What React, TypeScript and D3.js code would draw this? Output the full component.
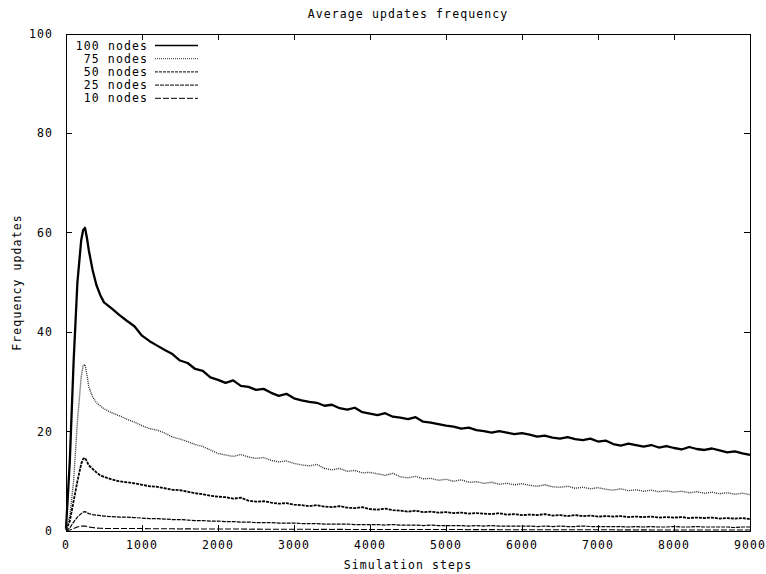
import React from "react";
import * as d3 from "d3";

const title = "Average updates frequency";
const xLabel = "Simulation steps";
const yLabel = "Frequency updates";
const xTicks = [0, 1000, 2000, 3000, 4000, 5000, 6000, 7000, 8000, 9000];
const yTicks = [0, 20, 40, 60, 80, 100];
const seriesNames = ["100 nodes", "75 nodes", "50 nodes", "25 nodes", "10 nodes"];

const earlySteps = [0, 50, 100, 150, 200, 225, 250, 275, 300, 350, 400, 450, 500];
const lateSteps = d3.range(600, 9001, 100);
const steps = [...earlySteps, ...lateSteps];

const nodes100 = [
  0.5, 14, 34, 50, 58.5, 60.5, 61, 59, 56.5, 52.5, 49.5, 47.5, 46,
  44.8, 43.5, 42.3, 41.2, 39.3,
  38.2, 37.3, 36.4, 35.6, 34.3, 33.8, 32.6, 32.2, 30.9, 30.4,
  29.8, 30.3, 29.2, 29.0, 28.4, 28.6, 27.8, 27.2, 27.6, 26.7,
  26.3, 26.0, 25.8, 25.2, 25.4, 24.7, 24.4, 24.8, 23.9, 23.6,
  23.3, 23.7, 23.0, 22.8, 22.5, 22.9, 22.0, 21.8, 21.5, 21.2,
  21.0, 20.6, 20.8, 20.3, 20.1, 19.8, 20.1, 19.8, 19.5, 19.7,
  19.4, 19.0, 19.2, 18.8, 18.6, 18.9, 18.5, 18.3, 18.6, 18.0,
  18.2, 17.5, 17.2, 17.6, 17.3, 17.0, 17.3, 16.8, 17.1, 16.7,
  16.4, 16.9, 16.5, 16.3, 16.6, 16.2, 15.8, 16.0, 15.6, 15.3,
];

const nodes75 = [
  0.3, 3, 10, 22, 31, 33.3, 33.5, 31.5, 29, 27, 25.8, 25.2, 24.6,
  23.8, 23.2, 22.5, 21.9, 21.2,
  20.6, 20.3, 19.7, 18.9, 18.5, 18.0, 17.4, 17.0, 16.3, 15.6,
  15.3, 15.0, 15.4, 14.9, 14.6, 14.8, 14.2, 13.9, 14.1, 13.6,
  13.3, 13.1, 13.4, 12.6, 12.3, 12.6, 12.0, 12.2, 11.7, 11.8,
  11.5, 11.2, 11.6, 10.9, 10.7, 11.0, 10.5, 10.6, 10.2, 10.4,
  10.0, 10.3, 9.8, 9.9, 9.6, 9.8, 9.4, 9.6, 9.3, 9.5,
  9.2, 9.0, 9.3, 8.9, 8.8, 9.0, 8.6, 8.8, 8.5, 8.7,
  8.4, 8.2, 8.5, 8.1, 8.3, 8.0, 8.2, 7.9, 8.1, 7.8,
  8.0, 7.7, 7.9, 7.6, 7.8, 7.5, 7.7, 7.4, 7.6, 7.3,
];

const nodes50 = [
  0.2, 2, 6, 10, 13.5, 14.5, 14.7, 14, 13.2, 12.5, 11.8, 11.2, 10.9,
  10.4, 10.0, 9.8, 9.6, 9.3,
  9.0, 8.9, 8.6, 8.3, 8.2, 7.9, 7.6, 7.4, 7.1, 6.9,
  6.8, 6.5, 6.7, 6.1, 5.9, 6.0, 5.7, 5.5, 5.6, 5.3,
  5.2, 5.0, 5.2, 4.9, 4.8, 5.0, 4.7, 4.6, 4.8, 4.4,
  4.3, 4.5, 4.2, 4.1, 3.9, 4.1, 3.8, 3.9, 3.7, 3.8,
  3.6, 3.7, 3.5, 3.6, 3.5, 3.4, 3.6, 3.3, 3.4, 3.2,
  3.3, 3.2, 3.4, 3.1, 3.2, 3.0, 3.2, 3.0, 3.1, 2.9,
  3.0, 2.9, 3.0, 2.8, 2.9, 2.8, 2.9, 2.7, 2.8, 2.7,
  2.8, 2.6, 2.7, 2.6, 2.7, 2.5, 2.6, 2.5, 2.6, 2.4,
];

const nodes25 = [
  0.1, 0.6, 1.8, 2.8, 3.5, 3.8, 3.9, 3.7, 3.5, 3.3, 3.2, 3.1, 3.0,
  2.9, 2.8, 2.8, 2.7, 2.6,
  2.5, 2.5, 2.4, 2.3, 2.3, 2.2, 2.1, 2.1, 2.0, 2.0,
  1.9, 1.9, 1.8, 1.8, 1.7, 1.7, 1.7, 1.6, 1.6, 1.6,
  1.5, 1.5, 1.5, 1.4, 1.4, 1.4, 1.4, 1.3, 1.3, 1.3,
  1.3, 1.2, 1.3, 1.2, 1.2, 1.2, 1.1, 1.2, 1.1, 1.1,
  1.1, 1.1, 1.0, 1.1, 1.0, 1.1, 1.0, 1.0, 1.0, 1.0,
  1.0, 0.9, 1.0, 0.9, 1.0, 0.9, 0.9, 1.0, 0.9, 0.9,
  0.9, 0.9, 0.9, 0.8, 0.9, 0.8, 0.9, 0.8, 0.8, 0.9,
  0.8, 0.8, 0.9, 0.8, 0.8, 0.8, 0.8, 0.7, 0.8, 0.8,
];

const nodes10 = [
  0.0, 0.2, 0.5, 0.8, 1.0, 1.0, 1.0, 0.9, 0.8, 0.7, 0.6, 0.55, 0.5,
  0.5, 0.5, 0.5, 0.5, 0.5,
  0.45, 0.45, 0.45, 0.45, 0.4, 0.45, 0.4, 0.4, 0.4, 0.4,
  0.4, 0.4, 0.4, 0.35, 0.4, 0.35, 0.35, 0.35, 0.35, 0.35,
  0.35, 0.35, 0.3, 0.35, 0.3, 0.35, 0.3, 0.3, 0.3, 0.3,
  0.3, 0.3, 0.3, 0.3, 0.3, 0.3, 0.3, 0.3, 0.3, 0.3,
  0.3, 0.3, 0.25, 0.3, 0.25, 0.3, 0.25, 0.25, 0.25, 0.25,
  0.25, 0.25, 0.25, 0.25, 0.25, 0.25, 0.25, 0.25, 0.25, 0.25,
  0.25, 0.25, 0.2, 0.25, 0.2, 0.25, 0.2, 0.2, 0.2, 0.2,
  0.2, 0.2, 0.2, 0.2, 0.2, 0.2, 0.2, 0.2, 0.2, 0.2,
];

const seriesValues = [nodes100, nodes75, nodes50, nodes25, nodes10];

const styles = [
  { dash: "none", width: 2.3, color: "#000" },
  { dash: "1,1", width: 1.4, color: "#333" },
  { dash: "3,1", width: 1.8, color: "#000" },
  { dash: "4,1", width: 1.2, color: "#000" },
  { dash: "6,2", width: 1.2, color: "#000" },
];

const W = 766;
const H = 574;
const M = { left: 66, right: 16, top: 34, bottom: 43 };
const FONT = "'DejaVu Sans Mono', 'Liberation Mono', monospace";

export default function App() {
  const x = d3.scaleLinear().domain([0, 9000]).range([M.left, W - M.right]);
  const y = d3.scaleLinear().domain([0, 100]).range([H - M.bottom, M.top]);
  const line = d3
    .line<[number, number]>()
    .x((d) => x(d[0]))
    .y((d) => y(d[1]));
  const tickLen = 6;
  const x0 = x(0), x1 = x(9000), y0 = y(0), y1 = y(100);
  const textStyle = { fontFamily: FONT, fontSize: 11.5, letterSpacing: 1.1 } as const;

  return (
    <svg
      width={W}
      height={H}
      style={{ position: "absolute", left: 0, top: 0, background: "#fff" }}
    >
      <rect x={0} y={0} width={W} height={H} fill="#fff" />
      <text x={(x0 + x1) / 2} y={18} textAnchor="middle" {...textStyle}>
        {title}
      </text>
      {/* data */}
      {seriesValues.map((vals, i) => (
        <path
          key={i}
          d={line(steps.map((s, k) => [s, vals[k]] as [number, number])) || ""}
          fill="none"
          stroke={styles[i].color}
          strokeWidth={styles[i].width}
          strokeDasharray={styles[i].dash}
          strokeLinejoin="round"
        />
      ))}
      {/* frame */}
      <rect
        x={x0}
        y={y1}
        width={x1 - x0}
        height={y0 - y1}
        fill="none"
        stroke="#000"
        strokeWidth={1}
        shapeRendering="crispEdges"
      />
      {/* ticks */}
      {xTicks.map((t) => (
        <g key={"x" + t} shapeRendering="crispEdges">
          <line x1={x(t)} x2={x(t)} y1={y0} y2={y0 - tickLen} stroke="#000" />
          <line x1={x(t)} x2={x(t)} y1={y1} y2={y1 + tickLen} stroke="#000" />
          <text x={x(t)} y={y0 + 18} textAnchor="middle" {...textStyle}>
            {t}
          </text>
        </g>
      ))}
      {yTicks.map((t) => (
        <g key={"y" + t} shapeRendering="crispEdges">
          <line x1={x0} x2={x0 + tickLen} y1={y(t)} y2={y(t)} stroke="#000" />
          <line x1={x1} x2={x1 - tickLen} y1={y(t)} y2={y(t)} stroke="#000" />
          <text x={53} y={y(t) + 4} textAnchor="end" {...textStyle}>
            {t}
          </text>
        </g>
      ))}
      <text x={(x0 + x1) / 2} y={569} textAnchor="middle" {...textStyle}>
        {xLabel}
      </text>
      <text
        transform={`translate(21, ${(y0 + y1) / 2}) rotate(-90)`}
        textAnchor="middle"
        {...textStyle}
      >
        {yLabel}
      </text>
      {/* legend */}
      {seriesNames.map((n, i) => {
        const ly = 45.5 + i * 13.2;
        return (
          <g key={n}>
            <text x={148} y={ly + 4} textAnchor="end" {...textStyle}>
              {n}
            </text>
            <line
              x1={155}
              x2={198}
              y1={ly}
              y2={ly}
              stroke={styles[i].color}
              strokeWidth={i === 0 ? 1.5 : 1}
              strokeDasharray={styles[i].dash}
            />
          </g>
        );
      })}
    </svg>
  );
}
